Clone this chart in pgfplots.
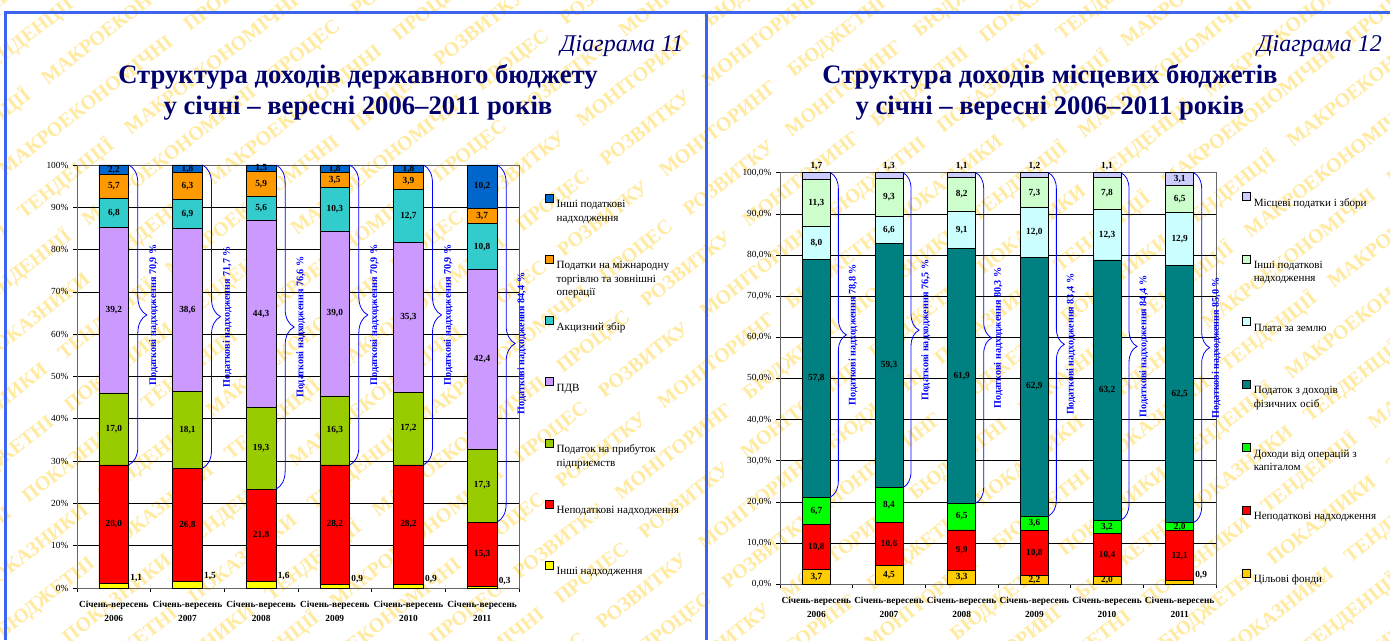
\documentclass[border=0pt]{standalone}
\usepackage{fontspec}
\setmainfont{Liberation Serif}
\usepackage{pgfplots}
\usepackage{pgfplotstable}
\pgfplotsset{compat=1.18}
\usetikzlibrary{decorations.pathreplacing}

\definecolor{frameblue}{RGB}{60,100,240}
\definecolor{navy}{RGB}{0,0,110}
\definecolor{wmark}{RGB}{255,234,160}
\definecolor{braceblue}{RGB}{0,0,255}
\definecolor{cBlue}{RGB}{0,102,204}
\definecolor{cOrange}{RGB}{255,153,0}
\definecolor{cTurq}{RGB}{51,204,204}
\definecolor{cLilac}{RGB}{204,153,255}
\definecolor{cOlive}{RGB}{153,204,0}
\definecolor{cRed}{RGB}{255,0,0}
\definecolor{cYellow}{RGB}{255,255,0}
\definecolor{cLav}{RGB}{204,204,255}
\definecolor{cMint}{RGB}{204,255,204}
\definecolor{cIce}{RGB}{204,255,255}
\definecolor{cTeal}{RGB}{0,128,128}
\definecolor{cGreen}{RGB}{0,255,0}
\definecolor{cGold}{RGB}{255,204,0}

% state budget, shares in %
\pgfplotstableread{
x a b c d e f g
0 1.1 28.0 17.0 39.2 6.8 5.7 2.2
1 1.5 26.8 18.1 38.6 6.9 6.3 1.8
2 1.6 21.8 19.3 44.3 5.6 5.9 1.5
3 0.9 28.2 16.3 39.0 10.3 3.5 1.8
4 0.9 28.2 17.2 35.3 12.7 3.9 1.8
5 0.3 15.3 17.3 42.4 10.8 3.7 10.2
}\derzh

% local budgets, shares in %
\pgfplotstableread{
x a b c d e f g
0 3.7 10.8 6.7 57.8 8.0 11.3 1.7
1 4.5 10.6 8.4 59.3 6.6 9.3 1.3
2 3.3 9.9 6.5 61.9 9.1 8.2 1.1
3 2.2 10.8 3.6 62.9 12.0 7.3 1.2
4 2.0 10.4 3.2 63.2 12.3 7.8 1.1
5 0.9 12.1 2.0 62.5 12.9 6.5 3.1
}\mists

\newcommand\num[1]{\pgfmathprintnumber[fixed,fixed zerofill,precision=1,use comma]{#1}}
\newcommand\leg[1]{\parbox[c][26pt][t]{130pt}{\fontsize{8.3}{10}\selectfont #1}}
% x of bar edge, bottom of brace, middle, amplitude, share
\newcommand\tbrace[5]{%
  \draw[braceblue,line width=0.6pt,decorate,decoration={brace,amplitude=#4}]
    (axis cs:#1,100) -- (axis cs:#1,#2);
  \node[rotate=90,anchor=north,inner sep=1.5pt,text=braceblue,
    font=\fontsize{7.6}{8}\selectfont\bfseries] at ([xshift=#4]axis cs:#1,#3) {Податкові надходження #5~\%};}

\pgfplotsset{
  seg/.style={fill=#1, draw=black, line width=0.5pt},
  lab/.style={draw=none, mark=none},
  frame/.style={scale only axis, anchor=south west, clip=false,
    xmin=-0.5, xmax=5.5, ymin=0, ymax=100},
  labels/.style={frame, hide axis, point meta=explicit,
    /pgf/number format/assume math mode=true,
    nodes near coords={\num{\pgfplotspointmeta}},
    nodes near coords style={font=\fontsize{7}{8}\selectfont\bfseries, inner sep=1pt, anchor=center}},
  budget/.style={frame,
    ybar stacked, bar width=#1,
    xtick={0,...,5},
    xticklabels={{Січень-вересень\\2006},{Січень-вересень\\2007},{Січень-вересень\\2008},
      {Січень-вересень\\2009},{Січень-вересень\\2010},{Січень-вересень\\2011}},
    xticklabel style={align=center, font=\fontsize{7}{10.5}\selectfont\bfseries, yshift=-3pt},
    major x tick style={draw=none},
    minor xtick={-0.5,0.5,...,5.5},
    minor tick length=3pt, major tick length=3pt,
    ytick={0,10,...,100},
    ymajorgrids, grid style={black, line width=0.5pt},
    tick align=outside, xtick pos=bottom, ytick pos=left,
    tick style={black, line width=0.5pt},
    axis line style={black!60, line width=0.6pt},
    yticklabel style={font=\fontsize{7}{8}\selectfont},
    /pgf/number format/assume math mode=true,
    legend image code/.code={\draw[##1,line width=0.5pt] (0pt,7pt) rectangle (6pt,13pt);},
    legend style={draw=none, fill=none, anchor=north west, inner sep=0pt,
      column sep=2pt, nodes={inner sep=0pt}},
    legend cell align=left, reverse legend,
  }}

\begin{document}
\begin{tikzpicture}
\useasboundingbox (0,0) rectangle (1042.5pt,480pt);
\fill[white] (0,0) rectangle (1042.5pt,480pt);

% watermark
\begin{scope}
\clip (0,0) rectangle (1042.5pt,480pt);
\foreach \i [evaluate=\i as \xx using {521-20.93*\i+0.788*mod(\i*67,160)},
             evaluate=\i as \yy using {240+26.79*\i+0.6157*mod(\i*67,160)}] in {-16,...,16}{
  \node[rotate=38, text=wmark, font=\fontsize{15}{15}\selectfont\bfseries, inner sep=0pt]
    at (\xx pt,\yy pt) {МОНІТОРИНГ\quad БЮДЖЕТНІ\quad ПОКАЗНИКИ\quad ТЕНДЕНЦІЇ\quad МАКРОЕКОНОМІЧНІ\quad ПРОЦЕС\quad РОЗВИТКУ\quad
      МОНІТОРИНГ\quad БЮДЖЕТНІ\quad ПОКАЗНИКИ\quad ТЕНДЕНЦІЇ\quad МАКРОЕКОНОМІЧНІ\quad ПРОЦЕС\quad РОЗВИТКУ};
}
\end{scope}

% frame
\draw[frameblue, line width=2.25pt] (3.75pt,0) -- (3.75pt,470.25pt) -- (1042.5pt,470.25pt);
\draw[frameblue, line width=2.25pt] (529.5pt,0) -- (529.5pt,470.25pt);

% titles
\node[anchor=east, text=navy, font=\fontsize{18}{20}\selectfont\itshape] at (516pt,445.5pt) {Діаграма 11};
\node[align=center, text=navy, font=\fontsize{20}{23.25}\selectfont\bfseries] at (268.5pt,410.6pt)
  {Структура доходів державного бюджету\\у січні – вересні 2006–2011 років};
\node[anchor=east, text=navy, font=\fontsize{18}{20}\selectfont\itshape] at (1040pt,445.5pt) {Діаграма 12};
\node[align=center, text=navy, font=\fontsize{20}{23.25}\selectfont\bfseries] at (787.5pt,410.6pt)
  {Структура доходів місцевих бюджетів\\у січні – вересні 2006–2011 років};

% ---------- state budget ----------
\begin{axis}[budget=0.407, at={(57.75pt,39pt)}, width=331.5pt, height=317.25pt,
  yticklabel={\pgfmathprintnumber[fixed,precision=0]{\tick}\%},
  legend style={at={(1.059,0.932)}, row sep=24.1pt}]
\addplot[seg=cYellow] table[x=x,y=a]{\derzh};
\addlegendentry{\leg{Інші надходження}}
\addplot[seg=cRed] table[x=x,y=b]{\derzh};
\addlegendentry{\leg{Неподаткові надходження}}
\addplot[seg=cOlive] table[x=x,y=c]{\derzh};
\addlegendentry{\leg{Податок на прибуток\\підприємств}}
\addplot[seg=cLilac] table[x=x,y=d]{\derzh};
\addlegendentry{\leg{ПДВ}}
\addplot[seg=cTurq] table[x=x,y=e]{\derzh};
\addlegendentry{\leg{Акцизний збір}}
\addplot[seg=cOrange] table[x=x,y=f]{\derzh};
\addlegendentry{\leg{Податки на міжнародну\\торгівлю та зовнішні\\операції}}
\addplot[seg=cBlue] table[x=x,y=g]{\derzh};
\addlegendentry{\leg{Інші податкові\\надходження}}
\end{axis}
\begin{axis}[labels, at={(57.75pt,39pt)}, width=331.5pt, height=317.25pt]
\addplot[lab, every node near coord/.append style={anchor=south west, xshift=11.25pt}] table[x=x,y=a,meta=a]{\derzh};
\addplot[lab] table[x=x,y expr=\thisrow{a}+\thisrow{b}/2,meta=b]{\derzh};
\addplot[lab] table[x=x,y expr=\thisrow{a}+\thisrow{b}+\thisrow{c}/2,meta=c]{\derzh};
\addplot[lab] table[x=x,y expr=\thisrow{a}+\thisrow{b}+\thisrow{c}+\thisrow{d}/2,meta=d]{\derzh};
\addplot[lab] table[x=x,y expr=\thisrow{a}+\thisrow{b}+\thisrow{c}+\thisrow{d}+\thisrow{e}/2,meta=e]{\derzh};
\addplot[lab] table[x=x,y expr=\thisrow{a}+\thisrow{b}+\thisrow{c}+\thisrow{d}+\thisrow{e}+\thisrow{f}/2,meta=f]{\derzh};
\addplot[lab] table[x=x,y expr=\thisrow{a}+\thisrow{b}+\thisrow{c}+\thisrow{d}+\thisrow{e}+\thisrow{f}+\thisrow{g}/2,meta=g]{\derzh};
\tbrace{0.2035}{29.1}{64.55}{13.5pt}{70,9}
\tbrace{1.2035}{28.3}{64.15}{13.5pt}{71,7}
\tbrace{2.2035}{23.4}{61.7}{13.5pt}{76,6}
\tbrace{3.2035}{29.1}{64.55}{13.5pt}{70,9}
\tbrace{4.2035}{29.1}{64.55}{13.5pt}{70,9}
\tbrace{5.2035}{15.6}{57.8}{13.5pt}{84,4}
\end{axis}

% ---------- local budgets ----------
\begin{axis}[budget=0.385, at={(585pt,41.78pt)}, width=327pt, height=308.7pt,
  yticklabel={\num{\tick}\%},
  legend style={at={(1.06,0.954)}, row sep=25.35pt}]
\addplot[seg=cGold] table[x=x,y=a]{\mists};
\addlegendentry{\leg{Цільові фонди}}
\addplot[seg=cRed] table[x=x,y=b]{\mists};
\addlegendentry{\leg{Неподаткові надходження}}
\addplot[seg=cGreen] table[x=x,y=c]{\mists};
\addlegendentry{\leg{Доходи від операцій з\\капіталом}}
\addplot[seg=cTeal] table[x=x,y=d]{\mists};
\addlegendentry{\leg{Податок з доходів\\фізичних осіб}}
\addplot[seg=cIce] table[x=x,y=e]{\mists};
\addlegendentry{\leg{Плата за землю}}
\addplot[seg=cMint] table[x=x,y=f]{\mists};
\addlegendentry{\leg{Інші податкові\\надходження}}
\addplot[seg=cLav] table[x=x,y=g]{\mists};
\addlegendentry{\leg{Місцеві податки і збори}}
\end{axis}
\begin{axis}[labels, at={(585pt,41.78pt)}, width=327pt, height=308.7pt]
\addplot[lab, skip coords between index={5}{6}] table[x=x,y expr=\thisrow{a}/2,meta=a]{\mists};
\addplot[lab, skip coords between index={0}{5},
  every node near coord/.append style={anchor=south west, xshift=10.5pt}] table[x=x,y=a,meta=a]{\mists};
\addplot[lab] table[x=x,y expr=\thisrow{a}+\thisrow{b}/2,meta=b]{\mists};
\addplot[lab] table[x=x,y expr=\thisrow{a}+\thisrow{b}+\thisrow{c}/2,meta=c]{\mists};
\addplot[lab] table[x=x,y expr=\thisrow{a}+\thisrow{b}+\thisrow{c}+\thisrow{d}/2,meta=d]{\mists};
\addplot[lab] table[x=x,y expr=\thisrow{a}+\thisrow{b}+\thisrow{c}+\thisrow{d}+\thisrow{e}/2,meta=e]{\mists};
\addplot[lab] table[x=x,y expr=\thisrow{a}+\thisrow{b}+\thisrow{c}+\thisrow{d}+\thisrow{e}+\thisrow{f}/2,meta=f]{\mists};
\addplot[lab, skip coords between index={5}{6},
  every node near coord/.append style={anchor=south, yshift=1pt}]
  table[x=x,y expr=\thisrow{a}+\thisrow{b}+\thisrow{c}+\thisrow{d}+\thisrow{e}+\thisrow{f}+\thisrow{g},meta=g]{\mists};
\addplot[lab, skip coords between index={0}{5}]
  table[x=x,y expr=\thisrow{a}+\thisrow{b}+\thisrow{c}+\thisrow{d}+\thisrow{e}+\thisrow{f}+\thisrow{g}/2,meta=g]{\mists};
\tbrace{0.193}{21.2}{60.6}{12pt}{78,8}
\tbrace{1.193}{23.5}{61.75}{12pt}{76,5}
\tbrace{2.193}{19.7}{59.85}{12pt}{80,3}
\tbrace{3.193}{16.6}{58.3}{12pt}{83,4}
\tbrace{4.193}{15.6}{57.8}{12pt}{84,4}
\tbrace{5.193}{15.0}{57.5}{12pt}{85,0}
\end{axis}
\end{tikzpicture}
\end{document}
